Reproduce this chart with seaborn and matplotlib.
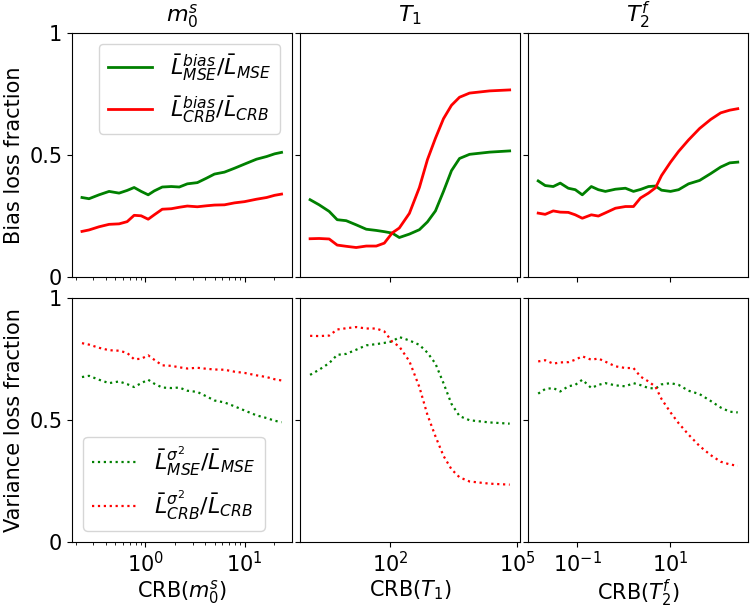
import numpy as np
import pandas as pd
import matplotlib
matplotlib.use("Agg")
import matplotlib.pyplot as plt
from matplotlib.ticker import NullLocator
import seaborn as sns

# ---------------- data ----------------
# column 1: m0s
x_m0s = [0.231, 0.272, 0.343, 0.433, 0.546, 0.658, 0.774, 0.911, 1.072, 1.233, 1.485, 1.831,
         2.205, 2.656, 3.35, 4.13, 4.98, 6.28, 7.93, 10.0, 13.2, 16.7, 20.1, 23.6]
bias_mse_m0s = [0.325, 0.320, 0.336, 0.350, 0.343, 0.354, 0.366, 0.350, 0.336, 0.352, 0.368, 0.370,
                0.368, 0.381, 0.386, 0.404, 0.421, 0.429, 0.445, 0.462, 0.482, 0.493, 0.504, 0.510]
bias_crb_m0s = [0.186, 0.192, 0.205, 0.215, 0.217, 0.226, 0.252, 0.250, 0.236, 0.254, 0.277, 0.279,
                0.285, 0.290, 0.287, 0.291, 0.294, 0.295, 0.303, 0.308, 0.318, 0.325, 0.334, 0.339]
var_mse_m0s = [0.675, 0.680, 0.664, 0.650, 0.657, 0.646, 0.634, 0.650, 0.664, 0.648, 0.632, 0.630,
               0.632, 0.619, 0.614, 0.596, 0.579, 0.571, 0.555, 0.538, 0.518, 0.507, 0.496, 0.490]
var_crb_m0s = [0.814, 0.808, 0.795, 0.785, 0.783, 0.774, 0.748, 0.750, 0.764, 0.746, 0.723, 0.721,
               0.715, 0.710, 0.713, 0.709, 0.706, 0.705, 0.697, 0.692, 0.682, 0.675, 0.666, 0.661]

# column 2: T1
x_t1 = [1.27, 2.08, 3.59, 5.55, 9.06, 15.6, 27.0, 46.6, 72.1, 111, 163, 282, 486, 753,
        1165, 1803, 2786, 4315, 7447, 22180, 66070]
bias_mse_t1 = [0.316, 0.295, 0.268, 0.234, 0.230, 0.213, 0.195, 0.190, 0.185, 0.179, 0.161, 0.175,
               0.193, 0.225, 0.270, 0.350, 0.435, 0.485, 0.502, 0.511, 0.516]
bias_crb_t1 = [0.156, 0.157, 0.155, 0.130, 0.125, 0.120, 0.126, 0.126, 0.138, 0.180, 0.200, 0.260,
               0.366, 0.480, 0.568, 0.648, 0.703, 0.736, 0.753, 0.762, 0.766]
var_mse_t1 = [0.684, 0.705, 0.732, 0.766, 0.770, 0.787, 0.805, 0.810, 0.815, 0.821, 0.839, 0.825,
              0.807, 0.775, 0.730, 0.650, 0.565, 0.515, 0.498, 0.489, 0.484]
var_crb_t1 = [0.844, 0.843, 0.845, 0.870, 0.875, 0.880, 0.874, 0.874, 0.862, 0.820, 0.800, 0.740,
              0.634, 0.520, 0.432, 0.352, 0.297, 0.264, 0.247, 0.238, 0.234]

# column 3: T2f
x_t2f = [0.01439, 0.02037, 0.03034, 0.04297, 0.0640, 0.0905, 0.1282, 0.2006, 0.2843, 0.4027,
         0.662, 1.089, 1.622, 2.297, 3.414, 4.84, 6.52, 10.2, 15.2, 24.9, 43.1, 74.6, 122.7,
         191.9, 285.8]
bias_mse_t2f = [0.393, 0.374, 0.370, 0.384, 0.363, 0.357, 0.336, 0.370, 0.357, 0.350, 0.359, 0.363,
                0.350, 0.358, 0.370, 0.372, 0.355, 0.350, 0.357, 0.381, 0.395, 0.423, 0.450, 0.467,
                0.470]
bias_crb_t2f = [0.261, 0.256, 0.270, 0.265, 0.264, 0.254, 0.240, 0.254, 0.249, 0.262, 0.281, 0.288,
                0.288, 0.323, 0.343, 0.365, 0.415, 0.470, 0.514, 0.561, 0.608, 0.645, 0.672, 0.683,
                0.689]
var_mse_t2f = [0.607, 0.626, 0.630, 0.616, 0.637, 0.643, 0.664, 0.630, 0.643, 0.650, 0.641, 0.637,
               0.650, 0.642, 0.630, 0.628, 0.645, 0.650, 0.643, 0.619, 0.605, 0.577, 0.550, 0.533,
               0.530]
var_crb_t2f = [0.739, 0.744, 0.730, 0.735, 0.736, 0.746, 0.760, 0.746, 0.751, 0.738, 0.719, 0.712,
               0.712, 0.677, 0.657, 0.635, 0.585, 0.530, 0.486, 0.439, 0.392, 0.355, 0.328, 0.317,
               0.311]

col_titles = [r'$m_0^s$', r'$T_1$', r'$T_2^f$']
x_labels = [r'CRB($m_0^s$)', r'CRB($T_1$)', r'CRB($T_2^f$)']
row_labels = ['Bias loss fraction', 'Variance loss fraction']
y_ticks = [0, 0.5, 1]
y_ticklabels = ['0', '0.5', '1']
x_ticks_t1 = [1e2, 1e5]
x_ticks_t2f = [1e-1, 1e1]

lab_bias_mse = r'$\bar{L}^{bias}_{MSE}/\bar{L}_{MSE}$'
lab_bias_crb = r'$\bar{L}^{bias}_{CRB}/\bar{L}_{CRB}$'
lab_var_mse = r'$\bar{L}^{\sigma^2}_{MSE}/\bar{L}_{MSE}$'
lab_var_crb = r'$\bar{L}^{\sigma^2}_{CRB}/\bar{L}_{CRB}$'

# ---------------- figure ----------------
plt.rcParams['font.family'] = ['DejaVu Sans']
plt.rcParams['mathtext.fontset'] = 'dejavusans'
FS = 15

fig, axes = plt.subplots(2, 3, figsize=(7.5, 6.08), dpi=100, sharex='col', sharey='row')
fig.subplots_adjust(left=0.096, right=0.997, top=0.946, bottom=0.109, wspace=0.039, hspace=0.086)

cols = [
    (x_m0s, bias_mse_m0s, bias_crb_m0s, var_mse_m0s, var_crb_m0s),
    (x_t1, bias_mse_t1, bias_crb_t1, var_mse_t1, var_crb_t1),
    (x_t2f, bias_mse_t2f, bias_crb_t2f, var_mse_t2f, var_crb_t2f),
]

for j, (xv, bm, bc, vm, vc) in enumerate(cols):
    ax_top = axes[0, j]
    ax_bot = axes[1, j]
    df = pd.DataFrame({'x': xv, 'bm': bm, 'bc': bc, 'vm': vm, 'vc': vc})
    sns.lineplot(data=df, x='x', y='bm', ax=ax_top, color='green', linewidth=2,
                 label=lab_bias_mse, legend=False)
    sns.lineplot(data=df, x='x', y='bc', ax=ax_top, color='red', linewidth=2,
                 label=lab_bias_crb, legend=False)
    sns.lineplot(data=df, x='x', y='vm', ax=ax_bot, color='green', linewidth=1.6,
                 linestyle=':', label=lab_var_mse, legend=False)
    sns.lineplot(data=df, x='x', y='vc', ax=ax_bot, color='red', linewidth=1.6,
                 linestyle=':', label=lab_var_crb, legend=False)
    for ax in (ax_top, ax_bot):
        ax.set_xscale('log')
        ax.set_ylim(0, 1)
        ax.set_ylabel('')
        ax.set_xlabel('')
        ax.tick_params(labelsize=FS)
    ax_top.set_title(col_titles[j], fontsize=FS + 1, pad=8)
    ax_bot.set_xlabel(x_labels[j], fontsize=FS, labelpad=1)

axes[0, 1].set_xticks(x_ticks_t1)
axes[0, 2].set_xticks(x_ticks_t2f)
for j in (1, 2):
    axes[0, j].xaxis.set_minor_locator(NullLocator())
axes[0, 0].set_yticks(y_ticks, y_ticklabels)
axes[1, 0].set_yticks(y_ticks, y_ticklabels)
axes[0, 0].set_ylabel(row_labels[0], fontsize=FS)
axes[1, 0].set_ylabel(row_labels[1], fontsize=FS)
for ax in axes[0, :]:
    ax.tick_params(labelbottom=False)
for ax in axes[:, 1:].ravel():
    ax.tick_params(labelleft=False)

axes[0, 0].legend(loc='upper right', fontsize=16)
axes[1, 0].legend(loc='lower left', fontsize=16)

fig.savefig('out.png', dpi=100)
